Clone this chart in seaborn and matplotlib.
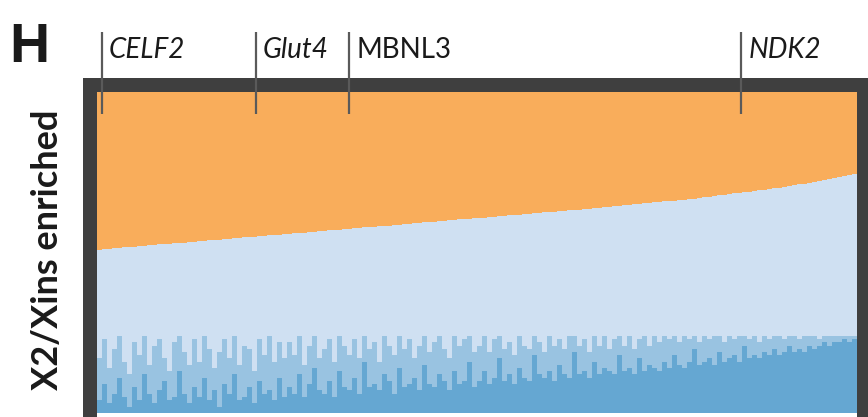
import matplotlib
matplotlib.use("Agg")
import matplotlib.pyplot as plt
import numpy as np
import seaborn as sns

# Genes sorted by the share of the top (orange) fraction; one bar per bin of genes.
# Cumulative height of the lower two fractions (top edge of the light-blue band).
upper_band = [
    0.509, 0.510, 0.512, 0.513, 0.514, 0.516, 0.517, 0.518, 0.519, 0.521,
    0.522, 0.523, 0.525, 0.526, 0.527, 0.529, 0.530, 0.531, 0.532, 0.534,
    0.535, 0.536, 0.538, 0.539, 0.540, 0.542, 0.543, 0.544, 0.545, 0.547,
    0.548, 0.549, 0.551, 0.552, 0.553, 0.555, 0.556, 0.557, 0.558, 0.560,
    0.561, 0.562, 0.564, 0.565, 0.566, 0.568, 0.569, 0.570, 0.571, 0.573,
    0.574, 0.575, 0.577, 0.578, 0.579, 0.581, 0.582, 0.583, 0.584, 0.586,
    0.587, 0.588, 0.590, 0.591, 0.592, 0.594, 0.595, 0.596, 0.597, 0.599,
    0.600, 0.601, 0.603, 0.604, 0.605, 0.607, 0.608, 0.609, 0.610, 0.612,
    0.613, 0.614, 0.616, 0.617, 0.618, 0.620, 0.621, 0.622, 0.623, 0.625,
    0.626, 0.627, 0.629, 0.630, 0.631, 0.633, 0.634, 0.635, 0.636, 0.638,
    0.639, 0.641, 0.642, 0.644, 0.645, 0.647, 0.648, 0.650, 0.651, 0.653,
    0.655, 0.656, 0.658, 0.659, 0.661, 0.662, 0.664, 0.665, 0.667, 0.668,
    0.670, 0.672, 0.674, 0.676, 0.678, 0.680, 0.682, 0.684, 0.686, 0.688,
    0.690, 0.692, 0.694, 0.696, 0.698, 0.700, 0.702, 0.704, 0.707, 0.709,
    0.712, 0.714, 0.717, 0.720, 0.723, 0.726, 0.729, 0.732, 0.735, 0.739,
    0.742, 0.746,
]

# Bottom (dark blue) fraction: the bulk level of each bin ...
dark_low = [
    0.04, 0.09, 0.03, 0.06, 0.11, 0.05, 0.02, 0.08, 0.04, 0.12,
    0.06, 0.03, 0.07, 0.10, 0.04, 0.05, 0.13, 0.06, 0.03, 0.08,
    0.05, 0.11, 0.04, 0.07, 0.02, 0.09, 0.06, 0.12, 0.04, 0.05,
    0.08, 0.03, 0.10, 0.06, 0.07, 0.04, 0.11, 0.05,
    0.08, 0.06, 0.12, 0.05, 0.09, 0.14, 0.07, 0.06, 0.10, 0.05,
    0.13, 0.08, 0.07, 0.11, 0.06, 0.16, 0.08, 0.09, 0.07, 0.12,
    0.10, 0.06, 0.14, 0.08, 0.09, 0.11, 0.07, 0.15, 0.09, 0.08,
    0.12, 0.10, 0.07, 0.13, 0.09, 0.10, 0.16, 0.08,
    0.10, 0.13, 0.09, 0.11, 0.17, 0.10, 0.12, 0.09, 0.14, 0.11,
    0.10, 0.18, 0.12, 0.11, 0.13, 0.10, 0.15, 0.12, 0.11, 0.19,
    0.12, 0.13, 0.11, 0.16, 0.12, 0.14, 0.13, 0.12, 0.18, 0.13,
    0.14, 0.12, 0.17, 0.13, 0.15, 0.14, 0.13, 0.16,
    0.14, 0.18, 0.15, 0.14, 0.16, 0.20, 0.15, 0.16, 0.17, 0.15,
    0.19, 0.16, 0.17, 0.18, 0.16, 0.21, 0.17, 0.18, 0.17, 0.19,
    0.18, 0.20, 0.18, 0.19, 0.21, 0.19, 0.20, 0.19, 0.21, 0.20,
    0.21, 0.22, 0.21, 0.22, 0.22, 0.23, 0.22, 0.23,
]

# ... and the highest single-gene value within each bin
dark_high = [
    0.17, 0.23, 0.14, 0.20, 0.24, 0.16, 0.12, 0.22, 0.18, 0.24,
    0.15, 0.21, 0.23, 0.17, 0.13, 0.22, 0.24, 0.19, 0.15, 0.23,
    0.16, 0.24, 0.20, 0.14, 0.19, 0.23, 0.17, 0.24, 0.15, 0.21,
    0.20, 0.13, 0.23, 0.18, 0.24, 0.16, 0.22, 0.17,
    0.22, 0.18, 0.24, 0.15, 0.21, 0.24, 0.17, 0.20, 0.23, 0.16,
    0.24, 0.21, 0.18, 0.23, 0.17, 0.24, 0.20, 0.22, 0.16, 0.24,
    0.21, 0.18, 0.24, 0.20, 0.23, 0.17, 0.21, 0.24, 0.19, 0.22,
    0.24, 0.20, 0.17, 0.24, 0.21, 0.23, 0.24, 0.19,
    0.21, 0.24, 0.19, 0.23, 0.24, 0.20, 0.22, 0.18, 0.24, 0.21,
    0.20, 0.24, 0.22, 0.19, 0.24, 0.21, 0.23, 0.20, 0.24, 0.24,
    0.21, 0.23, 0.19, 0.24, 0.21, 0.24, 0.20, 0.23, 0.24, 0.21,
    0.24, 0.20, 0.23, 0.24, 0.21, 0.24, 0.22, 0.24,
    0.23, 0.24, 0.22, 0.24, 0.23, 0.24, 0.22, 0.24, 0.23, 0.24,
    0.24, 0.22, 0.24, 0.23, 0.24, 0.24, 0.23, 0.24, 0.22, 0.24,
    0.23, 0.24, 0.24, 0.23, 0.24, 0.24, 0.23, 0.24, 0.24, 0.24,
    0.23, 0.24, 0.24, 0.24, 0.24, 0.24, 0.24, 0.24,
]

# Highlighted genes and their bin positions along the ranking
marked_genes = ["CELF2", "Glut4", "MBNL3", "NDK2"]
marked_pos = [0.4, 31.3, 50.0, 128.4]
marked_italic = [True, True, False, True]

ORANGE = "#F9AD5B"
LIGHT = "#CFE0F2"
DARK = "#65A7D2"
FRAME = "#3F3F3F"
TICK = "#5A5A5A"

sns.set_style("white")
plt.rcParams["font.family"] = ["Lato", "DejaVu Sans"]

W, H = 868, 417
fig = plt.figure(figsize=(W / 100, H / 100), dpi=100)
# axes box runs along the centre line of the thick frame
ax = fig.add_axes([90 / W, (H - 420) / H, 774 / W, 335 / H])

n = len(upper_band)
pos = np.arange(n)
ones = [1.0] * n

common = dict(native_scale=True, width=1, saturation=1, errorbar=None,
              linewidth=0, antialiased=False, ax=ax)
sns.barplot(x=pos, y=ones, color=ORANGE, **common)
sns.barplot(x=pos, y=upper_band, color=LIGHT, **common)
# translucent layer for the per-gene peaks, solid layer for the bulk
sns.barplot(x=pos, y=dark_high, color=DARK, alpha=0.5, **common)
sns.barplot(x=pos, y=dark_low, color=DARK, **common)

ax.set_xlim(-1.9, n - 1 + 1.9)
ax.set_ylim(-0.022, 1.022)
ax.set_xticks([])
ax.set_yticks([])
ax.set_xlabel("")
ax.set_ylabel("")
for sp in ax.spines.values():
    sp.set_visible(True)
    sp.set_color(FRAME)
    sp.set_linewidth(14 * 0.72)
    sp.set_capstyle("projecting")
    sp.set_zorder(3)

# gene markers: a thin line reaching into the plot and the name beside it
for name, xp, it in zip(marked_genes, marked_pos, marked_italic):
    ax.plot([xp, xp], [0.931, 1.187], color=TICK, lw=1.6, clip_on=False,
            zorder=5, solid_capstyle="butt")
    ax.annotate(name, xy=(xp, 1.106), xytext=(5, 0), textcoords="offset points",
                ha="left", va="baseline", fontsize=20,
                style="italic" if it else "normal", color="#1a1a1a",
                annotation_clip=False)

fig.text(48 / W, 1 - 250 / H, "X2/Xins enriched", rotation=90,
         ha="center", va="center", fontsize=26, fontweight="bold",
         color="#1a1a1a")
fig.text(9 / W, 1 - 62 / H, "H", ha="left", va="baseline", fontsize=40,
         fontweight="bold", family=["Liberation Sans", "DejaVu Sans"],
         color="#1a1a1a")

fig.savefig("out.png", dpi=100)
